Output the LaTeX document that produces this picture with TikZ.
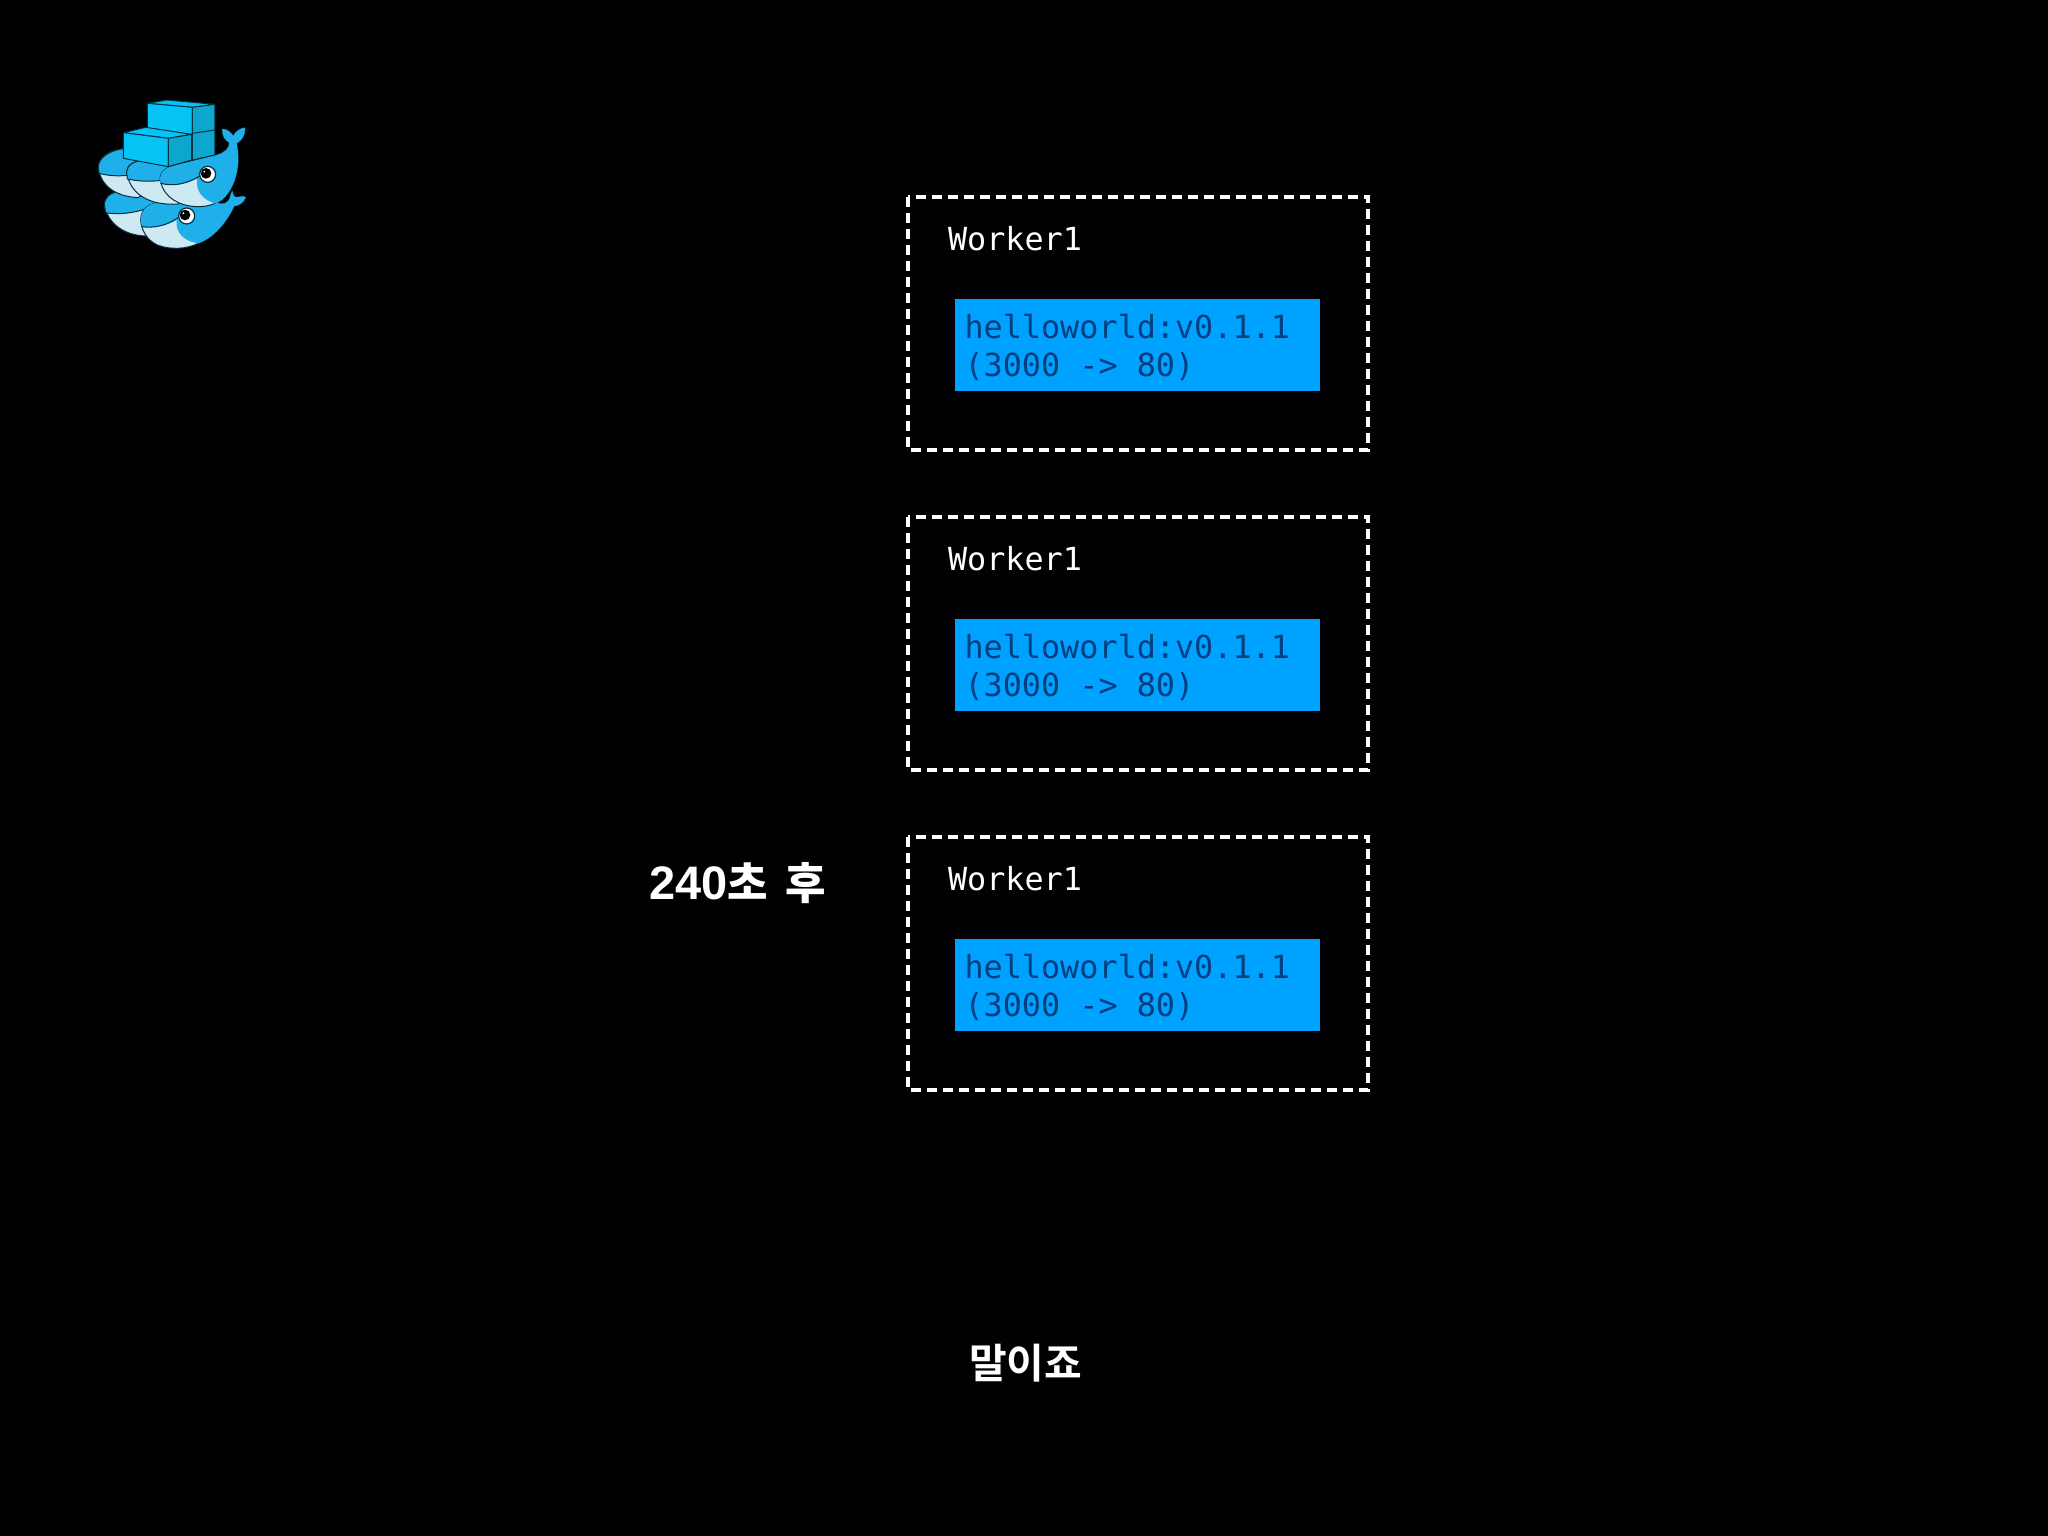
\documentclass[tikz,border=0pt]{standalone}
\usepackage{fontspec}
\newfontfamily\monof{DejaVu Sans Mono}
\newfontfamily\latinb{Liberation Sans}[BoldFont={Liberation Sans Bold}]
\newfontfamily\krb{Noto Sans CJK KR Bold}
\definecolor{bgk}{HTML}{010103}
\definecolor{chip}{HTML}{00A2FF}
\definecolor{chiptext}{HTML}{053E7E}
\definecolor{wblue}{HTML}{1FB0EA}
\definecolor{wpale}{HTML}{CFE9F2}
\definecolor{boxa}{HTML}{05C4F5}
\definecolor{boxb}{HTML}{0CA6CE}
\definecolor{wline}{HTML}{06303F}
\tikzset{
  workerbox/.style={draw=white,line width=4pt,dash pattern=on 10pt off 6pt},
  chipbox/.style={fill=chip,draw=none},
  monotext/.style={font=\monof\fontsize{31.8}{39}\selectfont,anchor=base west,inner sep=0pt,outer sep=0pt},
  wl/.style={draw=wline,line width=1pt,line join=round},
}
\begin{document}
\begin{tikzpicture}[x=1pt,y=-1pt]
\useasboundingbox (0,0) rectangle (2048,1536);
\fill[bgk] (0,0) rectangle (2048,1536);

% Whale logo, traced in a local 600x540 frame
\begin{scope}[shift={(70,80)},x=0.3333pt,y=-0.3333pt]
  % lower left whale
  \path[wl,fill=wpale] (103,372) .. controls (108,345) and (130,332) .. (165,335) -- (260,360) -- (260,480) -- (225,468) .. controls (160,465) and (112,430) .. (103,372) -- cycle;
  \path[wl,fill=wblue] (103,372) .. controls (108,345) and (130,332) .. (165,335) -- (260,360) -- (250,378) .. controls (200,400) and (145,405) .. (107,398) -- cycle;
  % lower right whale with tail
  \path[wl,fill=wpale] (212,420) .. controls (212,385) and (240,365) .. (290,365) -- (440,368) .. controls (460,375) and (470,370) .. (478,358) .. controls (480,348) and (484,340) .. (487,333) .. controls (490,345) and (490,350) .. (497,352) .. controls (510,352) and (520,345) .. (527,352) .. controls (522,368) and (505,378) .. (493,378) .. controls (475,415) and (440,470) .. (385,490) .. controls (350,508) and (300,510) .. (262,495) .. controls (230,480) and (214,450) .. (212,420) -- cycle;
  \path[fill=wblue] (212,420) .. controls (212,385) and (240,365) .. (290,365) -- (440,368) .. controls (460,375) and (470,370) .. (478,358) .. controls (480,348) and (484,340) .. (487,333) .. controls (490,345) and (490,350) .. (497,352) .. controls (510,352) and (520,345) .. (527,352) .. controls (522,368) and (505,378) .. (493,378) .. controls (475,415) and (440,470) .. (385,490) .. controls (345,485) and (315,460) .. (320,420) .. controls (290,438) and (250,445) .. (216,440) -- cycle;
  \draw[wl] (216,440) .. controls (250,445) and (290,438) .. (325,412);
  % upper left whale
  \path[wl,fill=wpale] (85,262) .. controls (85,235) and (115,210) .. (170,205) -- (260,215) -- (260,300) -- (205,353) .. controls (140,350) and (92,320) .. (85,262) -- cycle;
  \path[wl,fill=wblue] (85,262) .. controls (85,235) and (115,210) .. (170,205) -- (260,215) -- (240,270) .. controls (190,290) and (130,292) .. (87,280) -- cycle;
  % upper middle whale
  \path[wl,fill=wpale] (170,275) .. controls (172,255) and (190,242) .. (230,240) -- (340,240) -- (345,330) -- (325,372) .. controls (235,378) and (178,340) .. (170,275) -- cycle;
  \path[wl,fill=wblue] (170,275) .. controls (172,255) and (190,242) .. (230,240) -- (340,240) -- (330,290) .. controls (280,305) and (220,308) .. (172,297) -- cycle;
  % upper right whale with tail
  \path[wl,fill=wpale] (270,295) .. controls (272,275) and (285,262) .. (320,255) -- (440,225) .. controls (465,218) and (478,205) .. (478,188) .. controls (465,182) and (455,165) .. (457,147) .. controls (470,147) and (482,155) .. (490,168) .. controls (495,155) and (510,145) .. (525,143) .. controls (527,165) and (515,182) .. (500,190) .. controls (510,240) and (505,300) .. (470,345) .. controls (445,375) and (400,385) .. (360,378) .. controls (310,370) and (275,340) .. (270,295) -- cycle;
  \path[fill=wblue] (270,295) .. controls (272,275) and (285,262) .. (320,255) -- (440,225) .. controls (465,218) and (478,205) .. (478,188) .. controls (465,182) and (455,165) .. (457,147) .. controls (470,147) and (482,155) .. (490,168) .. controls (495,155) and (510,145) .. (525,143) .. controls (527,165) and (515,182) .. (500,190) .. controls (510,240) and (505,300) .. (470,345) .. controls (460,358) and (450,365) .. (437,371) .. controls (400,360) and (375,335) .. (382,295) .. controls (350,312) and (310,320) .. (272,310) -- cycle;
  \draw[wl] (272,310) .. controls (310,320) and (350,312) .. (390,288);
  % eyes
  \draw[wl,fill=white,line width=1.2pt] (413,283) circle (24);
  \fill[black] (408,280) circle (16);
  \fill[white] (403,275) circle (3);
  \draw[wl,fill=white,line width=1.2pt] (350,408) circle (24);
  \fill[black] (345,405) circle (16);
  \fill[white] (340,400) circle (3);
  % containers
  \path[wl,fill=boxa] (232,70) -- (290,60) -- (435,73) -- (367,82) -- cycle;
  \path[wl,fill=boxa] (232,70) -- (367,82) -- (367,240) -- (232,225) -- cycle;
  \path[wl,fill=boxb] (367,82) -- (435,73) -- (435,225) -- (367,240) -- cycle;
  \draw[wl] (367,160) -- (435,150);
  \path[wl,fill=boxa] (160,158) -- (228,142) -- (365,163) -- (295,175) -- cycle;
  \path[wl,fill=boxa] (160,158) -- (295,175) -- (295,260) -- (160,235) -- cycle;
  \path[wl,fill=boxb] (295,175) -- (365,163) -- (365,240) -- (295,260) -- cycle;
\end{scope}

% Workers
\foreach \i/\dy in {1/0,2/320,3/640}{
  \begin{scope}[shift={(0,\dy)}]
    \draw[workerbox] (908,197) rectangle (1368,450);
    \node[monotext,text=white] (worker\i) at (948,250) {Worker1};
    \fill[chipbox] (955,299) rectangle (1320,391);
    \node[monotext,text=chiptext] (img\i) at (964.5,338) {helloworld:v0.1.1};
    \node[monotext,text=chiptext] (port\i) at (964.5,376.5) {(3000 -> 80)};
  \end{scope}
}

\node[anchor=base west,inner sep=0pt,text=white] (after) at (649,899)
  {\latinb\bfseries\fontsize{47}{50}\selectfont 240\krb\fontsize{44}{50}\selectfont 초\hspace{17pt}후};
\node[anchor=base west,inner sep=0pt,text=white] (malijyo) at (969,1378)
  {\krb\fontsize{41}{46}\selectfont 말이죠};
\end{tikzpicture}
\end{document}
